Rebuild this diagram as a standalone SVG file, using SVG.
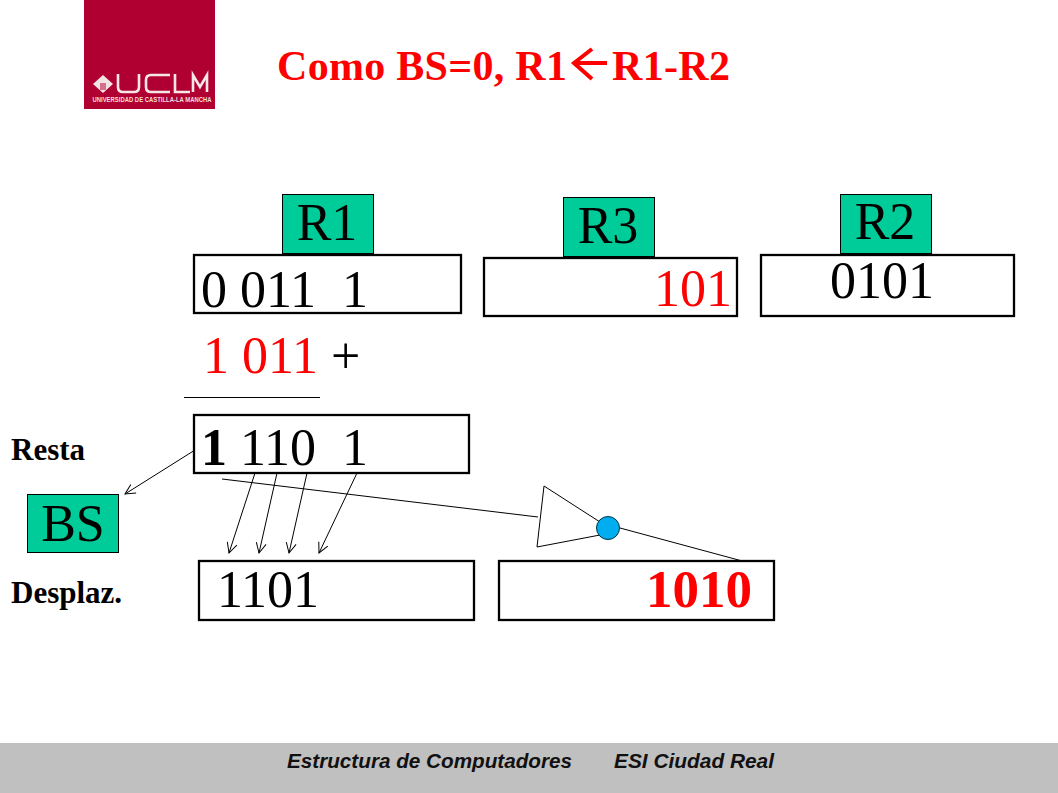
<svg xmlns="http://www.w3.org/2000/svg" width="1058" height="793" viewBox="0 0 1058 793">
<style>
text{font-family:"Liberation Serif","Times New Roman",serif}
.box{fill:#fff;stroke:#000;stroke-width:2.300}
.tag{fill:#00cc99;stroke:#000;stroke-width:1}
.big{font-size:52px;fill:#000;white-space:pre}
.lab{font-size:31px;font-weight:bold;fill:#000}
.ttl{font-size:42px;font-weight:bold;fill:#f00}
.red{fill:#f00}
.ln{fill:none;stroke:#000;stroke-width:1}
.foot{font-family:"Liberation Sans",Arial,sans-serif;font-size:20px;font-weight:bold;font-style:italic;fill:#111}
</style>
<defs>
<marker id="a" viewBox="0 0 12 12" refX="11" refY="6" markerWidth="12" markerHeight="12" markerUnits="userSpaceOnUse" orient="auto"><path d="M1 1L11 6L1 11" fill="none" stroke="#000" stroke-width="1"/></marker>
</defs>
<rect width="1058" height="793" fill="#fff"/>
<g id="footer">
<rect x="0" y="743" width="1058" height="50" fill="#c0c0c0"/>
<text x="287" y="768" class="foot" textLength="285" lengthAdjust="spacingAndGlyphs">Estructura de Computadores</text>
<text x="614" y="768" class="foot" textLength="160" lengthAdjust="spacingAndGlyphs">ESI Ciudad Real</text>
</g>
<g id="logo">
<rect x="84" y="0" width="131" height="109" fill="#b00032"/>
<path d="M93 84L103 75L113 84L103 93Z" fill="#f3e3e3"/>
<path d="M100 83H106V90H100Z" fill="#b00032" opacity=".5"/>
<g fill="none" stroke="#f6e6e6" stroke-width="2.600">
<path d="M118 74V87Q118 92 123 92H134Q139 92 139 87V74"/>
<path d="M170 75H151Q146 75 146 80V87Q146 92 151 92H170"/>
<path d="M175 74V92H190"/>
<path d="M193 92V75L200 87L207 75V92"/>
</g>
<text x="152" y="102" text-anchor="middle" style="font-family:'Liberation Sans',Arial,sans-serif;font-size:6.500px;font-weight:bold" fill="#f3dcdc" textLength="119" lengthAdjust="spacingAndGlyphs">UNIVERSIDAD DE CASTILLA-LA MANCHA</text>
</g>
<g id="title">
<text x="277" y="80" class="ttl" textLength="290" lengthAdjust="spacing">Como BS=0, R1</text>
<path d="M607 63H576M592 49L574 63L592 79" fill="none" stroke="#f00" stroke-width="4"/>
<text x="612" y="80" class="ttl" textLength="118" lengthAdjust="spacing">R1-R2</text>
</g>
<g id="connectors">
<line class="ln" x1="184" y1="397.500" x2="320" y2="397.500"/>
<line class="ln" x1="195" y1="450" x2="125" y2="494" marker-end="url(#a)"/>
<line class="ln" x1="255" y1="473" x2="229" y2="553" marker-end="url(#a)"/>
<line class="ln" x1="277" y1="473" x2="259" y2="553" marker-end="url(#a)"/>
<line class="ln" x1="307" y1="473" x2="289" y2="553" marker-end="url(#a)"/>
<line class="ln" x1="357" y1="473" x2="319" y2="553" marker-end="url(#a)"/>
<line class="ln" x1="222" y1="479" x2="538" y2="517"/>
<line class="ln" x1="620" y1="528" x2="746" y2="562"/>
</g>
<g id="r1-tag"><rect class="tag" x="282.500" y="194.500" width="91" height="59"/><text x="327" y="240" text-anchor="middle" class="big">R1</text></g>
<g id="r3-tag"><rect class="tag" x="563.500" y="197.500" width="91" height="59"/><text x="608" y="243" text-anchor="middle" class="big">R3</text></g>
<g id="r2-tag"><rect class="tag" x="840.500" y="194.500" width="91" height="59"/><text x="885" y="239" text-anchor="middle" class="big">R2</text></g>
<g id="r1"><rect class="box" x="194" y="255" width="267" height="58"/><text x="201" y="307" class="big" xml:space="preserve">0 011  1</text></g>
<g id="r3"><rect class="box" x="484" y="258" width="253" height="58"/><text x="654" y="306" class="big red">101</text></g>
<g id="r2"><rect class="box" x="761" y="255" width="253" height="61"/><text x="830" y="298" class="big">0101</text></g>
<g id="sum"><text x="203" y="373" class="big" xml:space="preserve"><tspan class="red">1 011</tspan> +</text></g>
<g id="result"><rect class="box" x="194" y="415" width="275" height="58"/><text x="201" y="465" class="big" xml:space="preserve"><tspan font-weight="bold">1</tspan> 110  1</text></g>
<g id="resta"><text x="11" y="460" class="lab">Resta</text></g>
<g id="desplaz"><text x="11" y="603" class="lab">Desplaz.</text></g>
<g id="bs"><rect class="tag" x="27.500" y="494.500" width="91" height="58"/><text x="73" y="541" text-anchor="middle" class="big">BS</text></g>
<g id="r1-out"><rect class="box" x="199" y="561" width="275" height="59"/><text x="217" y="607" class="big">1101</text></g>
<g id="r3-out"><rect class="box" x="499" y="561" width="275" height="59"/><text x="646" y="607" class="big red" font-weight="bold" style="font-size:53px">1010</text></g>
<g id="inverter">
<path d="M544 486L537 547L600 535M544 486L600 522" fill="none" stroke="#000" stroke-width="1"/>
<circle cx="608" cy="528" r="11.500" fill="#00aeef" stroke="#003040" stroke-width="1"/>
</g>
</svg>
